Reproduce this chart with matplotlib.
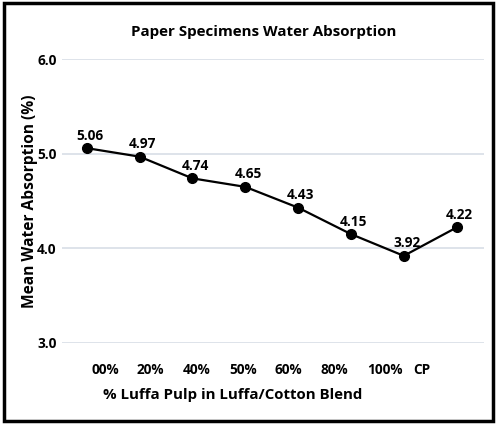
import matplotlib
matplotlib.use("Agg")
import matplotlib.pyplot as plt
import numpy as np

categories = ["00%", "20%", "40%", "50%", "60%", "80%", "100%", "CP"]
absorption = [5.06, 4.97, 4.74, 4.65, 4.43, 4.15, 3.92, 4.22]
y_ticks = [3.0, 4.0, 5.0, 6.0]

plt.rcParams["font.family"] = ["Open Sans", "DejaVu Sans"]
plt.rcParams["font.weight"] = "bold"

fig = plt.figure(figsize=(4.97, 4.24), dpi=100)
ax = fig.add_axes([0.1247, 0.1917, 0.974 - 0.1247, 0.860 - 0.1917])

x = np.arange(len(categories))
ax.plot(x, absorption, color="black", lw=1.6, marker="o", ms=7, zorder=3)
for xi, v in zip(x, absorption):
    ax.annotate(f"{v:.2f}", (xi, v), xytext=(2, 4), textcoords="offset points",
                ha="center", va="bottom", fontsize=9.8, fontweight="bold")

ax.set_xlim(-0.47, 7.52)
ax.set_ylim(3.0, 6.0)
ax.set_yticks(y_ticks)
ax.set_yticklabels([f"{t:.1f}" for t in y_ticks], fontsize=9.8, fontweight="bold")
ax.grid(axis="y", color="#d8dee6", lw=1.2)
ax.set_axisbelow(True)
ax.tick_params(length=0, pad=4)
for s in ax.spines.values():
    s.set_visible(False)

# category labels are spaced tighter than the points in the original
ax.set_xticks([])
label_pos = 0.08 + 0.87 * np.arange(len(categories))
for p, c in zip(label_pos, categories):
    ax.text(p, -0.095, c, transform=ax.get_xaxis_transform(), ha="left", va="center",
            fontsize=9.8, fontweight="bold")

fig.text(0.53, 0.925, "Paper Specimens Water Absorption", ha="center", va="center",
         fontsize=10.9, fontweight="bold")
fig.text(0.469, 0.068, "% Luffa Pulp in Luffa/Cotton Blend", ha="center", va="center",
         fontsize=10.8, fontweight="bold")
fig.text(0.06, 0.525, "Mean Water Absorption (%)", ha="center", va="center",
         rotation=90, fontsize=11.2, fontweight="bold")

border = plt.Rectangle((0.008, 0.008), 0.984, 0.984, transform=fig.transFigure,
                       fill=False, ec="black", lw=2.5)
fig.patches.append(border)

fig.savefig("out.png", dpi=100)
